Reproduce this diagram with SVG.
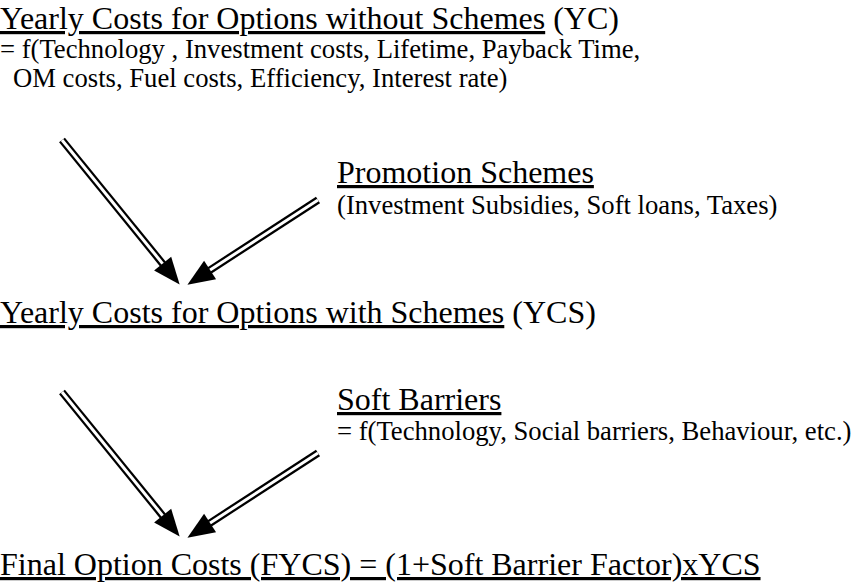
<svg xmlns="http://www.w3.org/2000/svg" width="857" height="585" viewBox="0 0 857 585">
<style>
text{font-family:"Liberation Serif","Times New Roman",serif;fill:#000}
.t{font-size:32px}
.s{font-size:26.67px}
.u{text-decoration:underline}
.outer{fill:none;stroke:#000;stroke-width:7.5}
.inner{fill:none;stroke:#fff;stroke-width:3}
</style>
<defs>
<marker id="head" markerUnits="userSpaceOnUse" viewBox="0 -11 27 22" refX="0.5" refY="0" markerWidth="27" markerHeight="22" orient="auto" overflow="visible">
<path d="M0,-11 L27,0 L0,11 z" fill="#000"/>
</marker>
</defs>
<rect width="857" height="585" fill="#fff"/>
<g id="connectors">
<path class="outer" d="M62,140 L162.95,264.05" marker-end="url(#head)"/>
<path class="inner" d="M62,140 L162.6,263.6"/>
<path class="outer" d="M318,200 L209.65,270.3" marker-end="url(#head)"/>
<path class="inner" d="M318,200 L210.1,270"/>
<path class="outer" d="M62,392 L162.95,516.05" marker-end="url(#head)"/>
<path class="inner" d="M62,392 L162.6,515.6"/>
<path class="outer" d="M318,453 L209.65,523.3" marker-end="url(#head)"/>
<path class="inner" d="M318,453 L210.1,523"/>
</g>
<g id="yc">
<text class="t" x="0" y="29"><tspan class="u">Yearly Costs for Options without Schemes</tspan> (YC)</text>
<text class="s" x="0" y="58">= f(Technology , Investment costs, Lifetime, Payback Time,</text>
<text class="s" x="13" y="87">OM costs, Fuel costs, Efficiency, Interest rate)</text>
</g>
<g id="promotion">
<text class="t" x="337" y="183"><tspan class="u">Promotion Schemes</tspan></text>
<text class="s" x="337" y="214">(Investment Subsidies, Soft loans, Taxes)</text>
</g>
<g id="ycs">
<text class="t" x="0" y="323"><tspan class="u">Yearly Costs for Options with Schemes</tspan> (YCS)</text>
</g>
<g id="soft">
<text class="t" x="337" y="410"><tspan class="u">Soft Barriers</tspan></text>
<text class="s" x="337" y="440">= f(Technology, Social barriers, Behaviour, etc.)</text>
</g>
<g id="final">
<text class="t u" x="0" y="575">Final Option Costs (FYCS) = (1+Soft Barrier Factor)xYCS</text>
</g>
</svg>
